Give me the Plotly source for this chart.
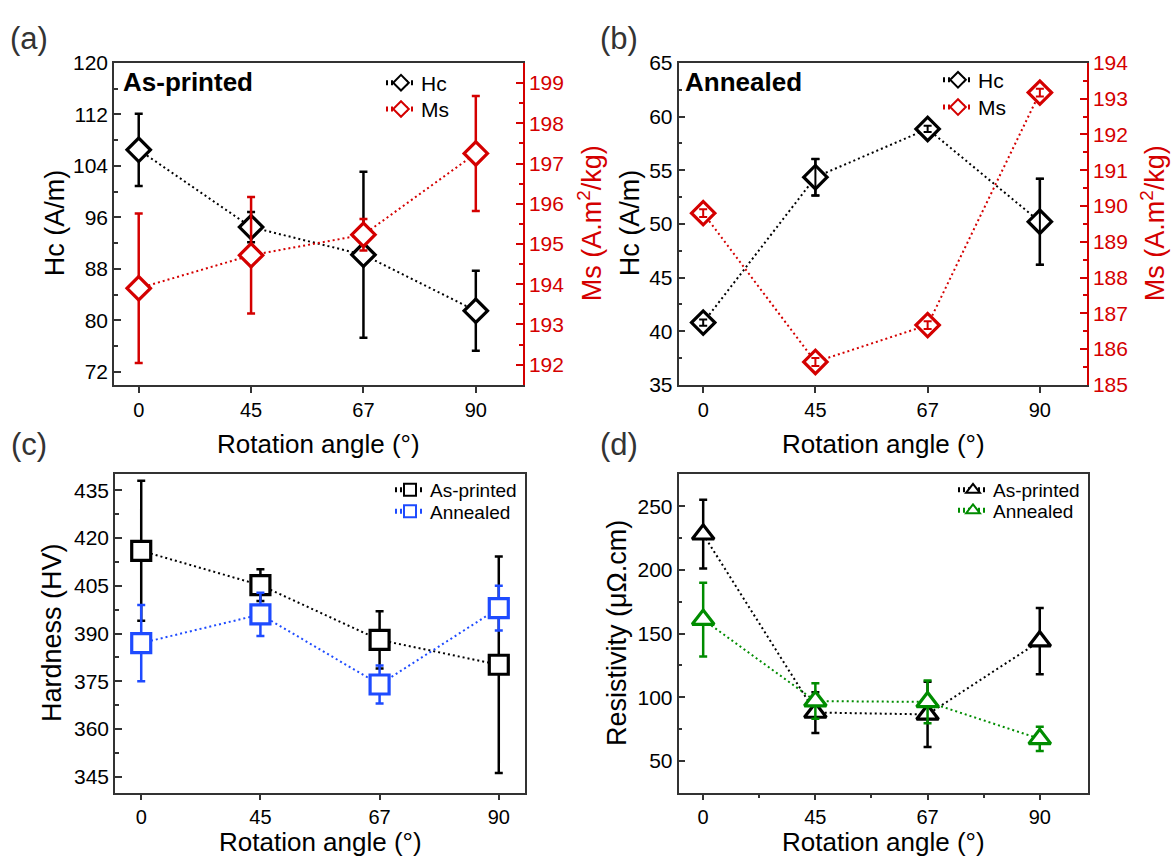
import plotly.graph_objects as go

# ---------------- data ----------------
angles = ["0", "45", "67", "90"]

# (a) As-printed
hc_asp = [106.5, 94.5, 90.2, 81.5]
hc_asp_err = [5.6, 2.35, 12.9, 6.2]
ms_asp = [193.9, 194.72, 195.23, 197.25]
ms_asp_err = [1.86, 1.45, 0.39, 1.43]

# (b) Annealed
hc_ann = [40.8, 54.35, 58.85, 50.2]
hc_ann_err = [0.3, 1.7, 0.3, 4.0]
ms_ann = [189.8, 185.64, 186.67, 193.17]
ms_ann_err = [0.11, 0.11, 0.11, 0.11]

# (c) Hardness
hv_asp = [416.0, 405.2, 388.0, 380.2]
hv_asp_err = [22.0, 5.0, 9.0, 34.0]
hv_ann = [387.0, 396.0, 374.0, 398.0]
hv_ann_err = [12.0, 6.8, 6.0, 7.0]

# (d) Resistivity
rho_asp = [228.0, 88.0, 86.5, 144.0]
rho_asp_err = [27.0, 16.0, 25.6, 26.0]
rho_ann = [161.0, 97.0, 96.3, 67.3]
rho_ann_err = [29.0, 14.0, 16.8, 9.5]

# ---------------- style ----------------
W, H = 1174, 867
FONT = "Liberation Sans, Arial, sans-serif"
BLACK = "#000000"
RED = "#D40000"
BLUE = "#1E4BFF"
GREEN = "#008C00"
AXC = "#333333"
DOT = "2px,3px"

xi = list(range(len(angles)))


def px_x(v):
    return v / W


def px_y(v):
    return 1 - v / H


fig = go.Figure()


def add_series(y, err, color, symbol, size, xa, ya, legend, name):
    fig.add_trace(go.Scatter(
        x=xi, y=y, name=name, xaxis=xa, yaxis=ya, legend=legend,
        mode="lines+markers",
        line=dict(color=color, width=2, dash=DOT),
        marker=dict(symbol=symbol, size=size, color="white",
                    line=dict(color=color, width=3.2)),
        error_y=dict(type="data", array=err, color=color, thickness=2.5, width=4),
        showlegend=True,
    ))


add_series(hc_asp, hc_asp_err, BLACK, "diamond", 18, "x", "y", "legend", "Hc")
add_series(ms_asp, ms_asp_err, RED, "diamond", 18, "x", "y2", "legend2", "Ms")
add_series(hc_ann, hc_ann_err, BLACK, "diamond", 18, "x2", "y3", "legend3", "Hc")
add_series(ms_ann, ms_ann_err, RED, "diamond", 18, "x2", "y4", "legend4", "Ms")
add_series(hv_asp, hv_asp_err, BLACK, "square", 19, "x3", "y5", "legend5", "As-printed")
add_series(hv_ann, hv_ann_err, BLUE, "square", 19, "x3", "y5", "legend6", "Annealed")
add_series(rho_asp, rho_asp_err, BLACK, "triangle-up", 19, "x4", "y6", "legend7", "As-printed")
add_series(rho_ann, rho_ann_err, GREEN, "triangle-up", 19, "x4", "y6", "legend8", "Annealed")

# small error bars of the annealed magnetic data are visible on top of the markers
for y, err, color, ya in [(hc_ann, hc_ann_err, BLACK, "y3"), (ms_ann, ms_ann_err, RED, "y4")]:
    fig.add_trace(go.Scatter(
        x=xi, y=y, xaxis="x2", yaxis=ya, mode="markers", showlegend=False,
        hoverinfo="skip", marker=dict(size=1, color="rgba(0,0,0,0)"),
        error_y=dict(type="data", array=err, color=color, thickness=2, width=4),
    ))

# ---------------- axes ----------------
tickfont = dict(family=FONT, size=20, color=BLACK)


def xaxis(domain, anchor, rng, minor=False):
    d = dict(domain=domain, anchor=anchor, range=rng, tickvals=xi, ticktext=angles,
             ticks="outside", ticklen=6, tickwidth=1.5, tickcolor=AXC,
             showline=True, linecolor=AXC, linewidth=1.5, mirror=True,
             showgrid=False, zeroline=False, tickfont=tickfont)
    if minor:
        d["minor"] = dict(ticks="outside", ticklen=4, tickwidth=1.5, tickcolor=AXC,
                          tick0=0.5, dtick=1)
    return d


def yaxis(domain, anchor, rng, tick0, dtick, color=BLACK, side="left", overlaying=None,
          mirror=False):
    c = AXC if color == BLACK else color
    d = dict(domain=domain, anchor=anchor, range=rng, tick0=tick0, dtick=dtick,
             side=side, ticks="inside", ticklen=7, tickwidth=1.5, tickcolor=c,
             showline=True, linecolor=c, linewidth=1.5,
             mirror=mirror, showgrid=False, zeroline=False,
             tickfont=dict(family=FONT, size=21, color=color),
             minor=dict(ticks="inside", ticklen=4, tickwidth=1.5, tickcolor=c,
                        tick0=tick0, dtick=dtick / 2))
    if overlaying:
        d["overlaying"] = overlaying
        d.pop("domain")
    return d


dom_a_x = [px_x(114), px_x(523)]
dom_b_x = [px_x(678.5), px_x(1087)]
dom_c_x = [px_x(115), px_x(525)]
dom_d_x = [px_x(678.5), px_x(1088)]
dom_top_y = [px_y(383), px_y(52.3)]
dom_bot_y = [px_y(802), px_y(475)]

layout = dict(
    width=W, height=H, margin=dict(l=0, r=0, t=0, b=0),
    paper_bgcolor="white", plot_bgcolor="white",
    font=dict(family=FONT, color=BLACK),
    xaxis=xaxis(dom_a_x, "y", [-0.22, 3.42]),
    xaxis2=xaxis(dom_b_x, "y3", [-0.22, 3.42]),
    xaxis3=xaxis(dom_c_x, "y5", [-0.22, 3.22]),
    xaxis4=xaxis(dom_d_x, "y6", [-0.22, 3.43], minor=True),
    yaxis=yaxis(dom_top_y, "x", [70, 120], 0, 8),
    yaxis2=yaxis(dom_top_y, "x", [191.5, 199.5], 0, 1, color=RED, side="right",
                 overlaying="y"),
    yaxis3=yaxis(dom_top_y, "x2", [35, 65], 0, 5),
    yaxis4=yaxis(dom_top_y, "x2", [185, 194], 0, 1, color=RED, side="right",
                 overlaying="y3"),
    yaxis5=yaxis(dom_bot_y, "x3", [340, 440], 345, 15, mirror=True),
    yaxis6=yaxis(dom_bot_y, "x4", [25, 275], 0, 50, mirror=True),
)


def leg(xm, ym, size):
    return dict(x=px_x(xm - 17), y=px_y(ym), xanchor="left", yanchor="middle",
                bgcolor="rgba(0,0,0,0)", borderwidth=0, itemsizing="constant",
                font=dict(family=FONT, size=size, color=BLACK), tracegroupgap=0)


layout["legend"] = leg(398, 73, 21)
layout["legend2"] = leg(398, 100, 21)
layout["legend3"] = leg(955, 70, 21)
layout["legend4"] = leg(955, 98, 21)
layout["legend5"] = leg(407, 491, 19)
layout["legend6"] = leg(407, 513, 19)
layout["legend7"] = leg(970, 491, 19)
layout["legend8"] = leg(970, 512, 19)

fig.update_layout(**layout)

# ---------------- annotations ----------------
ann = []


def text(x, y, s, size, color=BLACK, angle=0, bold=False, xanchor="center"):
    ann.append(dict(x=px_x(x), y=px_y(y), xref="paper", yref="paper", text=s,
                    showarrow=False, textangle=angle, xanchor=xanchor, yanchor="middle",
                    font=dict(family=FONT, size=size, color=color,
                              weight=("bold" if bold else "normal"))))


# panel labels
text(29, 27, "(a)", 31, color="#333333")
text(619, 27, "(b)", 31, color="#333333")
text(29, 444, "(c)", 31, color="#333333")
text(619, 444, "(d)", 31, color="#333333")

# in-plot titles
text(121, 72, "As-printed", 26, bold=True, xanchor="left")
text(683, 72, "Annealed", 26, bold=True, xanchor="left")

# x titles
for cx, cy in [(318.5, 444), (883, 444), (320, 853), (883, 853)]:
    text(cx, cy, "Rotation angle (°)", 26)

# y titles
text(55, 217, "Hc (A/m)", 27, angle=-90)
text(590, 217, "Ms (A.m<sup>2</sup>/kg)", 27, color=RED, angle=-90)
text(630, 217, "Hc (A/m)", 27, angle=-90)
text(1153, 217, "Ms (A.m<sup>2</sup>/kg)", 27, color=RED, angle=-90)
text(52, 638, "Hardness (HV)", 27, angle=-90)
text(617, 638, "Resistivity (μΩ.cm)", 27, angle=-90)

fig.update_layout(annotations=ann)

fig.write_html("out.html")
